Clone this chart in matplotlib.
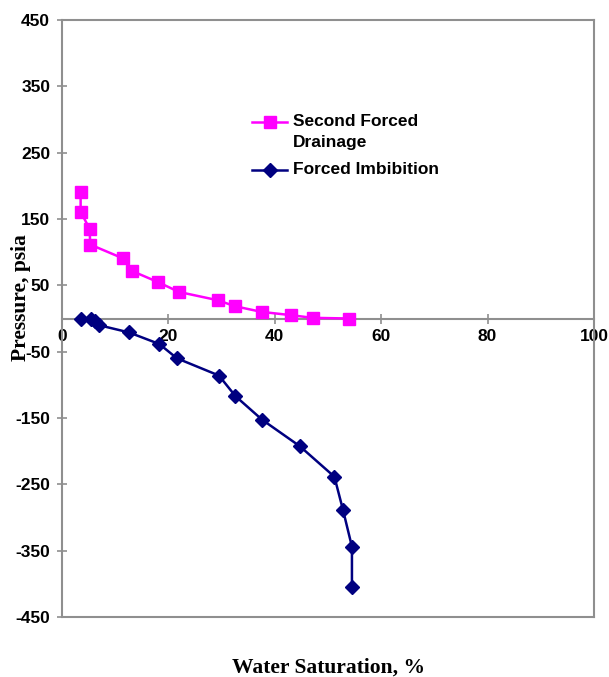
import matplotlib
matplotlib.use("Agg")
import matplotlib.pyplot as plt
from matplotlib.lines import Line2D

plt.rcParams["axes.unicode_minus"] = False

# Data
drain_sw = [3.5, 3.5, 5.2, 5.3, 11.5, 13.2, 18.0, 22.0, 29.3, 32.5, 37.5, 43.1, 47.1, 54.0]
drain_p = [190, 161, 135, 111.5, 90.5, 71.5, 55, 40, 27.5, 18.5, 10, 5, 1, 0]

imb_sw = [3.5, 5.5, 6.2, 6.9, 12.6, 18.3, 21.6, 29.5, 32.6, 37.6, 44.7, 51.2, 52.8, 54.5, 54.5]
imb_p = [0, 0, -4, -10, -21, -38.5, -60, -86, -117, -152.5, -192.5, -238.5, -288, -344, -405]

x_ticks = [0, 20, 40, 60, 80, 100]
y_ticks = [-450, -350, -250, -150, -50, 50, 150, 250, 350, 450]

W, H = 609, 677
fig = plt.figure(figsize=(W / 100, H / 100), dpi=100)
ax = fig.add_axes([62 / W, 1 - 617 / H, (594 - 62) / W, (617 - 20) / H])

pink = "#FF00FF"
navy = "#000080"
gray = "#8f8f8f"
sq_ms = 8.8
dm_ms = 7.5

ax.plot(drain_sw, drain_p, color=pink, lw=1.8, marker="s", ms=sq_ms,
        markerfacecolor=pink, markeredgecolor=pink, zorder=3, clip_on=False)
ax.plot(imb_sw, imb_p, color=navy, lw=1.8, marker="D", ms=dm_ms,
        markerfacecolor=navy, markeredgecolor=navy, zorder=3, clip_on=False)

ax.set_xlim(0, 100)
ax.set_ylim(-450, 450)
ax.set_xticks(x_ticks)
ax.set_yticks(y_ticks)

for s in ["left", "right", "top", "bottom"]:
    ax.spines[s].set_color(gray)
    ax.spines[s].set_linewidth(1.5)
ax.spines["bottom"].set_position(("data", 0))
ax.axhline(-450, color=gray, lw=1.5, clip_on=False, zorder=2)

ax.tick_params(axis="both", direction="inout", length=7, width=1.2, color=gray,
               labelsize=12.5)
ax.tick_params(axis="x", pad=4)
ax.tick_params(axis="y", pad=5)
for lab in ax.get_xticklabels() + ax.get_yticklabels():
    lab.set_fontweight("bold")
    lab.set_family("Liberation Sans")

fig.text(328 / W, 1 - 668 / H, "Water Saturation, %", ha="center", va="center",
         fontsize=15.5, fontweight="bold", family="Liberation Serif")
fig.text(21 / W, 1 - 298 / H, "Pressure, psia", ha="center", va="center",
         rotation=90, fontsize=15.5, fontweight="bold", family="Liberation Serif")

# Legend (manual, Excel style)
def fx(px):
    return px / W

def fy(py):
    return 1 - py / H

for ypx, col, mk, ms in [(122, pink, "s", sq_ms), (170, navy, "D", dm_ms)]:
    fig.add_artist(Line2D([fx(252), fx(287)], [fy(ypx), fy(ypx)], color=col, lw=1.8,
                          transform=fig.transFigure))
    fig.add_artist(Line2D([fx(269.5)], [fy(ypx)], color=col, marker=mk, ms=ms,
                          markerfacecolor=col, markeredgecolor=col,
                          transform=fig.transFigure))

fig.text(fx(293), fy(122), "Second Forced", ha="left", va="center", fontsize=12.5,
         fontweight="bold", family="Liberation Sans")
fig.text(fx(293), fy(143), "Drainage", ha="left", va="center", fontsize=12.5,
         fontweight="bold", family="Liberation Sans")
fig.text(fx(293), fy(170), "Forced Imbibition", ha="left", va="center", fontsize=12.5,
         fontweight="bold", family="Liberation Sans")

fig.savefig("out.png", dpi=100)
